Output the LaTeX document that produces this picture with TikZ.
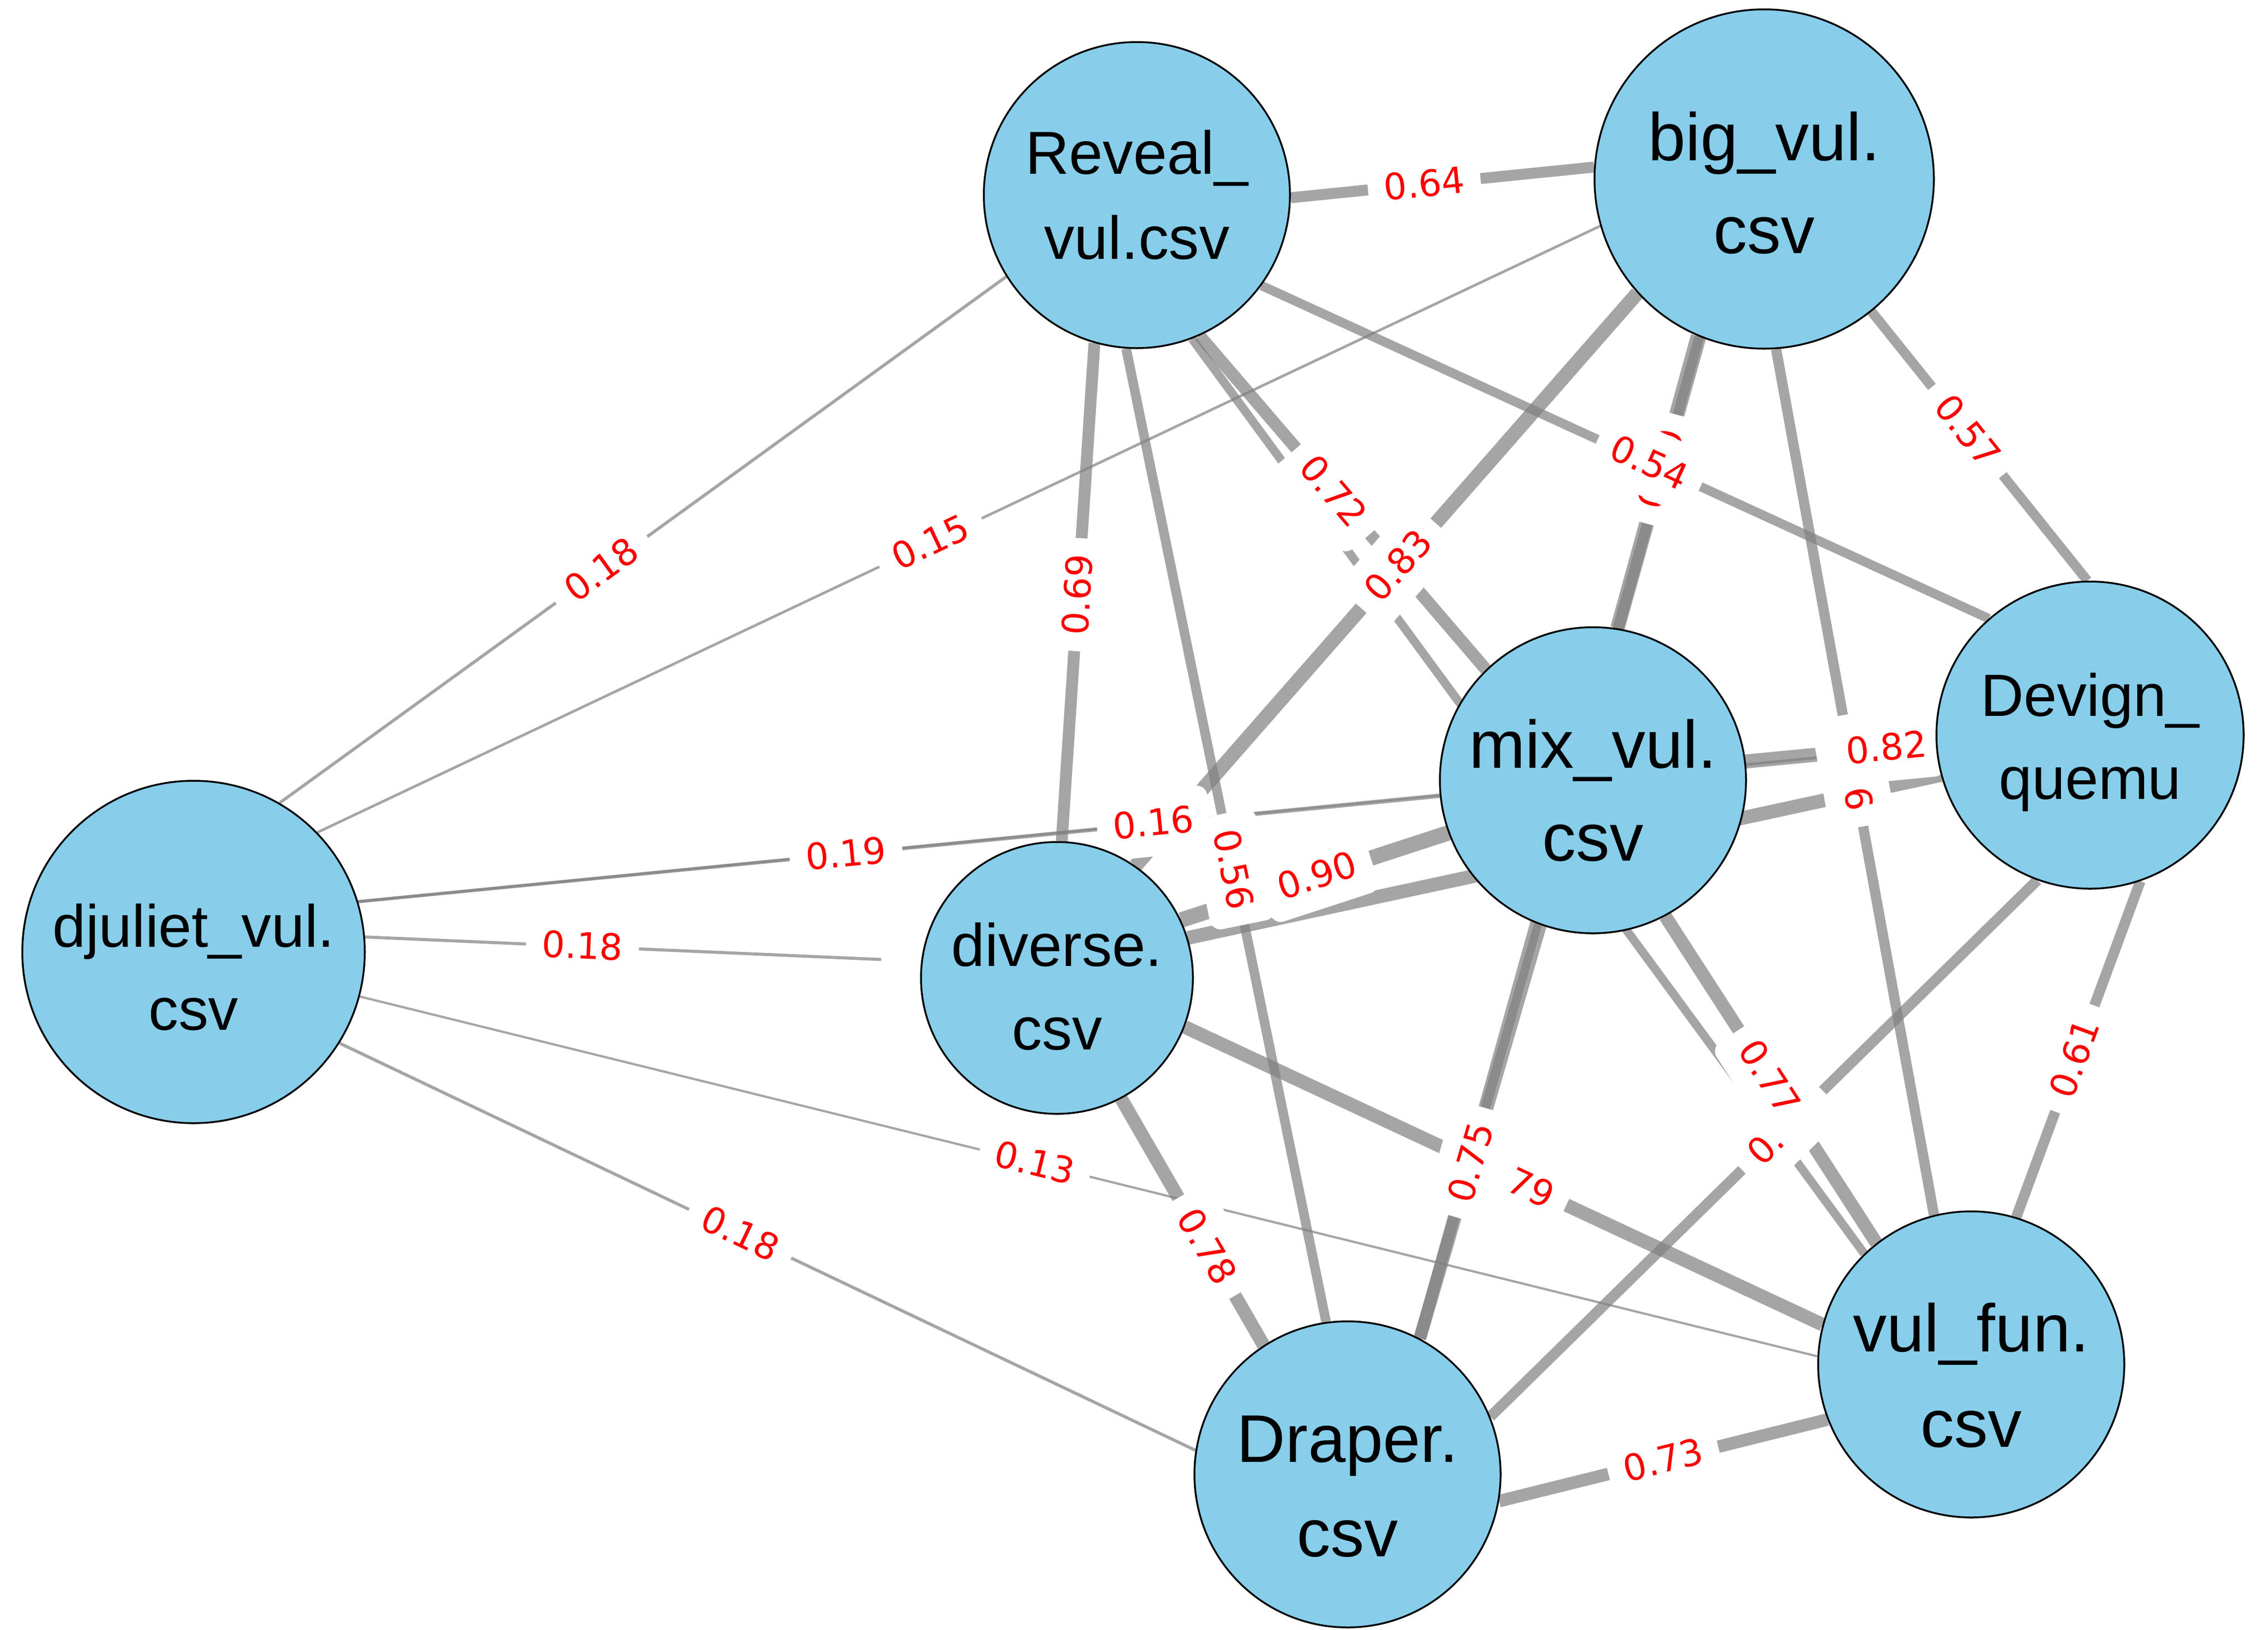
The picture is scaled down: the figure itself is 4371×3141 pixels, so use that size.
\documentclass[tikz,border=0pt]{standalone}
\usepackage{fontspec}
\newfontfamily\ndfam{Liberation Sans}
\newfontfamily\lblfam{DejaVu Sans}
\definecolor{skyblue}{RGB}{135,206,235}
\pgfdeclarelayer{edgelayer}
\pgfdeclarelayer{labellayer}
\pgfsetlayers{edgelayer,labellayer,main}
\tikzset{
  nd/.style={circle, draw=black, line width=3.5pt, fill=skyblue, inner sep=0pt},
  ntxt/.style={anchor=base, inner sep=0pt, font=\ndfam\fontsize{#1}{#1}\selectfont},
  ed/.style={draw=gray, draw opacity=0.7, line cap=butt},
  lbl/.style={sloped, fill=white, text=red, font=\lblfam\fontsize{70}{82}\selectfont,
    inner xsep=31pt, inner ysep=23pt, text height=65pt, text depth=17pt, rounded corners=21pt},
}
\begin{document}
\begin{tikzpicture}[x=1pt, y=-1pt]
\useasboundingbox (0,0) rectangle (4371,3141);
% nodes
\node[nd, minimum size=590pt] (R) at (2191,376) {};
\node[nd, minimum size=654pt] (B) at (3400,345) {};
\node[nd, minimum size=592pt] (D) at (4028,1417) {};
\node[nd, minimum size=590pt] (M) at (3070,1504) {};
\node[nd, minimum size=660pt] (J) at (373,1835) {};
\node[nd, minimum size=524pt] (V) at (2037,1885) {};
\node[nd, minimum size=590pt] (F) at (3799,2630) {};
\node[nd, minimum size=590pt] (P) at (2597,2842) {};
% node texts
\node[ntxt=117] (R1) at ([yshift=41pt]R.center) {Reveal\_};
\node[ntxt=117] (R2) at ([yshift=-123pt]R.center) {vul.csv};
\node[ntxt=130] (B1) at ([yshift=36pt]B.center) {big\_vul.};
\node[ntxt=130] (B2) at ([yshift=-143pt]B.center) {csv};
\node[ntxt=115] (D1) at ([yshift=36.5pt]D.center) {Devign\_};
\node[ntxt=115] (D2) at ([yshift=-123pt]D.center) {quemu};
\node[ntxt=130] (M1) at ([yshift=23.6pt]M.center) {mix\_vul.};
\node[ntxt=130] (M2) at ([yshift=-155.7pt]M.center) {csv};
\node[ntxt=115] (J1) at ([yshift=10pt]J.center) {djuliet\_vul.};
\node[ntxt=115] (J2) at ([yshift=-150.5pt]J.center) {csv};
\node[ntxt=116] (V1) at ([yshift=22.5pt]V.center) {diverse.};
\node[ntxt=116] (V2) at ([yshift=-138pt]V.center) {csv};
\node[ntxt=130] (F1) at ([yshift=25pt]F.center) {vul\_fun.};
\node[ntxt=130] (F2) at ([yshift=-159pt]F.center) {csv};
\node[ntxt=130] (P1) at ([yshift=24pt]P.center) {Draper.};
\node[ntxt=130] (P2) at ([yshift=-158pt]P.center) {csv};
% edges
\begin{pgfonlayer}{edgelayer}
\fill[white] (0,0) rectangle (4371,3141);
\draw[ed, line width=21.1pt] (R.-1) -- (B.176);
\draw[ed, line width=5.9pt] (J.60) -- (R.212);
\draw[ed, line width=5.0pt] (J.44) -- (B.196);
\draw[ed, line width=6.3pt] (J.17) -- (M.186);
\draw[ed, line width=5.3pt] (J.17) -- (D.184);
\draw[ed, line width=5.9pt, shorten >=77pt] (J.5) -- (V.173);
\draw[ed, line width=4.3pt] (J.-15) -- (F.177);
\draw[ed, line width=5.9pt] (J.-32) -- (P.171);
\draw[ed, line width=22.8pt] (R.254) -- (V.88);
\draw[ed, line width=18.5pt] (R.266) -- (P.98);
\draw[ed, line width=23.8pt] (R.-66) -- (M.134);
\draw[ed, line width=16.5pt] (R.-69) -- (F.134);
\draw[ed, line width=17.8pt] (R.-36) -- (D.131);
\draw[ed, line width=27.4pt] (B.222) -- (V.55);
\draw[ed, line width=26pt] (B.247) -- (M.81);
\draw[ed, line width=23pt] (B.248) -- (P.62);
\draw[ed, line width=18.8pt] (B.-51) -- (D.91);
\draw[ed, line width=19.8pt] (B.-86) -- (F.104);
\draw[ed, line width=27pt] (M.7) -- (D.183);
\draw[ed, line width=26.4pt] (V.17) -- (D.195);
\draw[ed, line width=20.1pt] (D.-71) -- (F.73);
\draw[ed, line width=20.5pt] (D.250) -- (P.22);
\draw[ed, line width=29.7pt] (V.25) -- (M.200);
\draw[ed, line width=25.4pt] (M.-62) -- (F.128);
\draw[ed, line width=24.8pt] (M.250) -- (P.62);
\draw[ed, line width=26.1pt] (V.-21) -- (F.165);
\draw[ed, line width=25.7pt] (V.-62) -- (P.123);
\draw[ed, line width=24.1pt] (P.-10) -- (F.201);
\end{pgfonlayer}
% edge labels (the first four are partly covered by later ones)
\begin{pgfonlayer}{labellayer}
\path (B.247) -- (M.81) node[lbl, pos=.455] (lBM) {0.80};
\path (B.-86) -- (F.104) node[lbl, pos=.487] (lBF) {\phantom{0.6}6};
\path (D.250) -- (P.22) node[lbl, pos=.466] (lDP) {0.\phantom{62}};
\path (V.-21) -- (F.165) node[lbl, pos=.518] (lVF) {\phantom{0.}79};
\path (R.-1) -- (B.176) node[lbl, pos=.44] (lRB) {0.64};
\path (J.60) -- (R.212) node[lbl, pos=.443] (lJR) {0.18};
\path (J.44) -- (B.196) node[lbl, pos=.478] (lJB) {0.15};
\path (J.17) -- (M.186) node[lbl, pos=.451] (lJM) {0.19};
\path (J.17) -- (D.184) node[lbl, pos=.504] (lJD) {0.16};
\path (J.5) -- (V.173) node[lbl, pos=.391] (lJV) {0.18};
\path (J.-15) -- (F.177) node[lbl, pos=.463] (lJF) {0.13};
\path (J.-32) -- (P.171) node[lbl, pos=.468] (lJP) {0.18};
\path (R.254) -- (V.88) node[lbl, pos=.505] (lRV) {0.69};
\path (R.266) -- (P.98) node[lbl, pos=.535] (lRP) {0.56};
\path (R.-66) -- (M.134) node[lbl, pos=.466] (lRM) {0.72};
\path (R.-36) -- (D.131) node[lbl, pos=.533] (lRD) {0.54};
\path (B.222) -- (V.55) node[lbl, pos=.476] (lBV) {0.83};
\path (B.-51) -- (D.91) node[lbl, pos=.444] (lBD) {0.57};
\path (M.7) -- (D.183) node[lbl, pos=.74] (lMD) {0.82};
\path (D.-71) -- (F.73) node[lbl, pos=.528] (lDF) {0.61};
\path (V.25) -- (M.200) node[lbl, pos=.509] (lVM) {0.90};
\path (M.-62) -- (F.128) node[lbl, pos=.493] (lMF) {0.77};
\path (M.250) -- (P.62) node[lbl, pos=.575] (lMP) {0.75};
\path (V.-62) -- (P.123) node[lbl, pos=.6] (lVP) {0.78};
\path (P.-10) -- (F.201) node[lbl, pos=.5] (lPF) {0.73};
\end{pgfonlayer}
\end{tikzpicture}
\end{document}
